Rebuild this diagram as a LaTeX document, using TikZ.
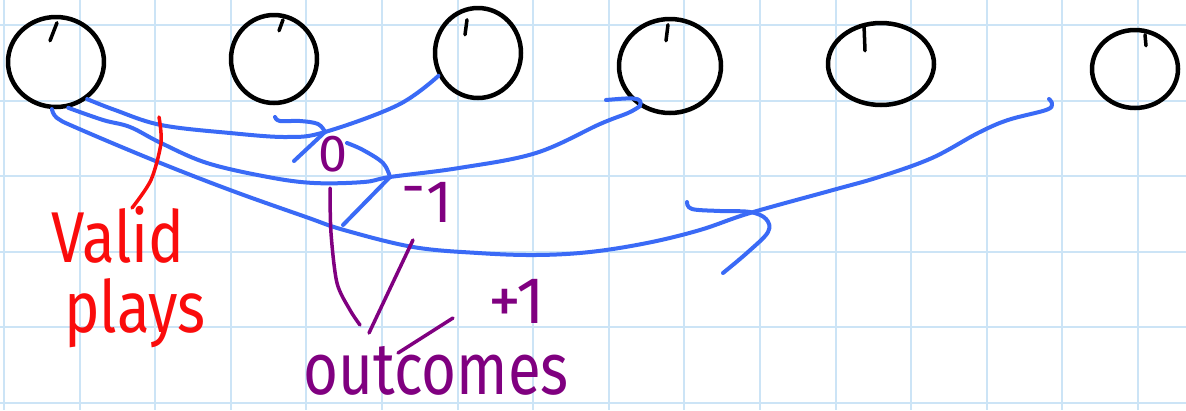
\documentclass[tikz,border=0pt]{standalone}
\usepackage{fontspec}
\setmainfont{Fira Sans}
\usetikzlibrary{shapes.geometric}
\definecolor{paper}{RGB}{204,228,246}
\definecolor{ink}{RGB}{58,106,246}
\definecolor{plum}{RGB}{128,0,128}
\definecolor{marker}{RGB}{250,12,12}

\begin{document}
\begin{tikzpicture}[x=1pt,y=-1pt,
  pen/.style={line width=4.5pt,line cap=round,line join=round},
  play/.style={pen,draw,ellipse,inner sep=0pt},
  move/.style={ink,line width=4pt,line cap=round,line join=round},
  tag/.style={plum,line width=3.5pt,line cap=round},
  hint/.style={marker,line width=3.5pt,line cap=round},
  lbl/.style={plum,inner sep=0pt}]
\fill[white] (0,0) rectangle (1186,410);
\useasboundingbox (0,0) rectangle (1186,410);
\foreach \k in {0,...,15}
  \draw[paper,line width=2pt] (4+75.6*\k,0) -- (4+75.6*\k,410);
\foreach \k in {0,...,5}
  \draw[paper,line width=2pt] (0,25+75.6*\k) -- (1186,25+75.6*\k);

\node[play,minimum width=96pt,minimum height=90pt] (play1) at (56,62) {};
\node[play,minimum width=86pt,minimum height=88pt] (play2) at (274,59) {};
\node[play,minimum width=86pt,minimum height=90pt] (play3) at (478,53) {};
\node[play,minimum width=102pt,minimum height=94pt] (play4) at (670,66) {};
\node[play,minimum width=106pt,minimum height=82pt] (play5) at (881,64) {};
\node[play,minimum width=86pt,minimum height=78pt] (play6) at (1135,69) {};
\foreach \n/\dx/\dy/\ex/\ey in {play1/1/8/-7/18, play2/9/7/-4/11, play3/-11/14/-2/15,
    play4/-2/8/-2/16, play5/-17/4/1/26, play6/10/7/1/11}
  \draw[pen,line width=3.5pt] (\n.north) ++(\dx,\dy) -- ++(\ex,\ey);

\coordinate (tip0) at (325,132);
\coordinate (tipm) at (390,177);
\coordinate (tipp) at (750,213);
\coordinate (end3) at (1049,99);

\draw[move] plot[smooth,tension=0.6] coordinates {(play1.-50) (115,110) (161,125) (230,133)
  (287,137) (tip0) (398,105) (play3.-150)};
\draw[move] plot[smooth,tension=0.6] coordinates {(275,117) (280,121) (300,121) (318,124) (tip0)};
\draw[move] (tip0) -- (294,161);

\draw[move] plot[smooth,tension=0.6] coordinates {(play1.-75) (103,120) (130,127) (161,143)
  (207,163) (268,177) (314,183) (364,182) (tipm) (459,168) (536,153) (600,124) (628,113) (play4.-127)};
\draw[move] (play4.-127) .. controls (645,96) and (630,98) .. (606,100);
\draw[move] plot[smooth,tension=0.6] coordinates {(347,143) (363,150) (383,163) (tipm)};
\draw[move] (tipm) -- (343,225);

\draw[move] plot[smooth,tension=0.6] coordinates {(play1.-95) (57,118) (77,128) (153,160)
  (230,190) (306,217) (344,230) (413,247) (478,253) (536,255) (590,252) (647,243) (700,230)
  (tipp) (833,190) (879,177) (932,158) (978,133) (1008,120) (1046,110) (1052,104) (end3)};
\draw[move] plot[smooth,tension=0.6] coordinates {(687,202) (692,209) (720,211) (750,212)
  (766,219) (768,232) (748,252) (723,273)};

\node[lbl,font=\fontsize{52}{52}\selectfont] (out0) at (333,154) {0};
\node[lbl,font=\fontsize{60}{60}\selectfont] (outm) at (427,202) {\raisebox{0.25em}{-}1};
\node[lbl,font=\fontsize{66}{66}\selectfont] (outp) at (517,301) {+1};
\node[lbl,anchor=base,font=\fontsize{60}{60}\selectfont] (outcomes) at (436,394)
  {\scalebox{1}[1.22]{outcomes}};

\draw[tag] plot[smooth] coordinates {([shift={(-76,-69)}]outcomes.base) (350,310) (337,283)
  (331,233) ([shift={(-3,34)}]out0.center)};
\draw[tag] ([shift={(-67,-61)}]outcomes.base) -- ([shift={(-14,38)}]outm.center);
\draw[tag] ([shift={(-38,-41)}]outcomes.base) -- ([shift={(-64,17)}]outp.center);

\node[marker,inner sep=0pt,anchor=base,font=\fontsize{60}{60}\selectfont] (valid) at (118,262)
  {\scalebox{1}[1.2]{Valid}};
\node[marker,inner sep=0pt,anchor=base,font=\fontsize{60}{60}\selectfont] (plays) at (135,332)
  {\scalebox{1}[1.2]{plays}};
\coordinate (hint) at (159,117);
\draw[hint] plot[smooth] coordinates {([shift={(14,-54)}]valid.base) (151,180) (161,143) (hint)};
\end{tikzpicture}
\end{document}
